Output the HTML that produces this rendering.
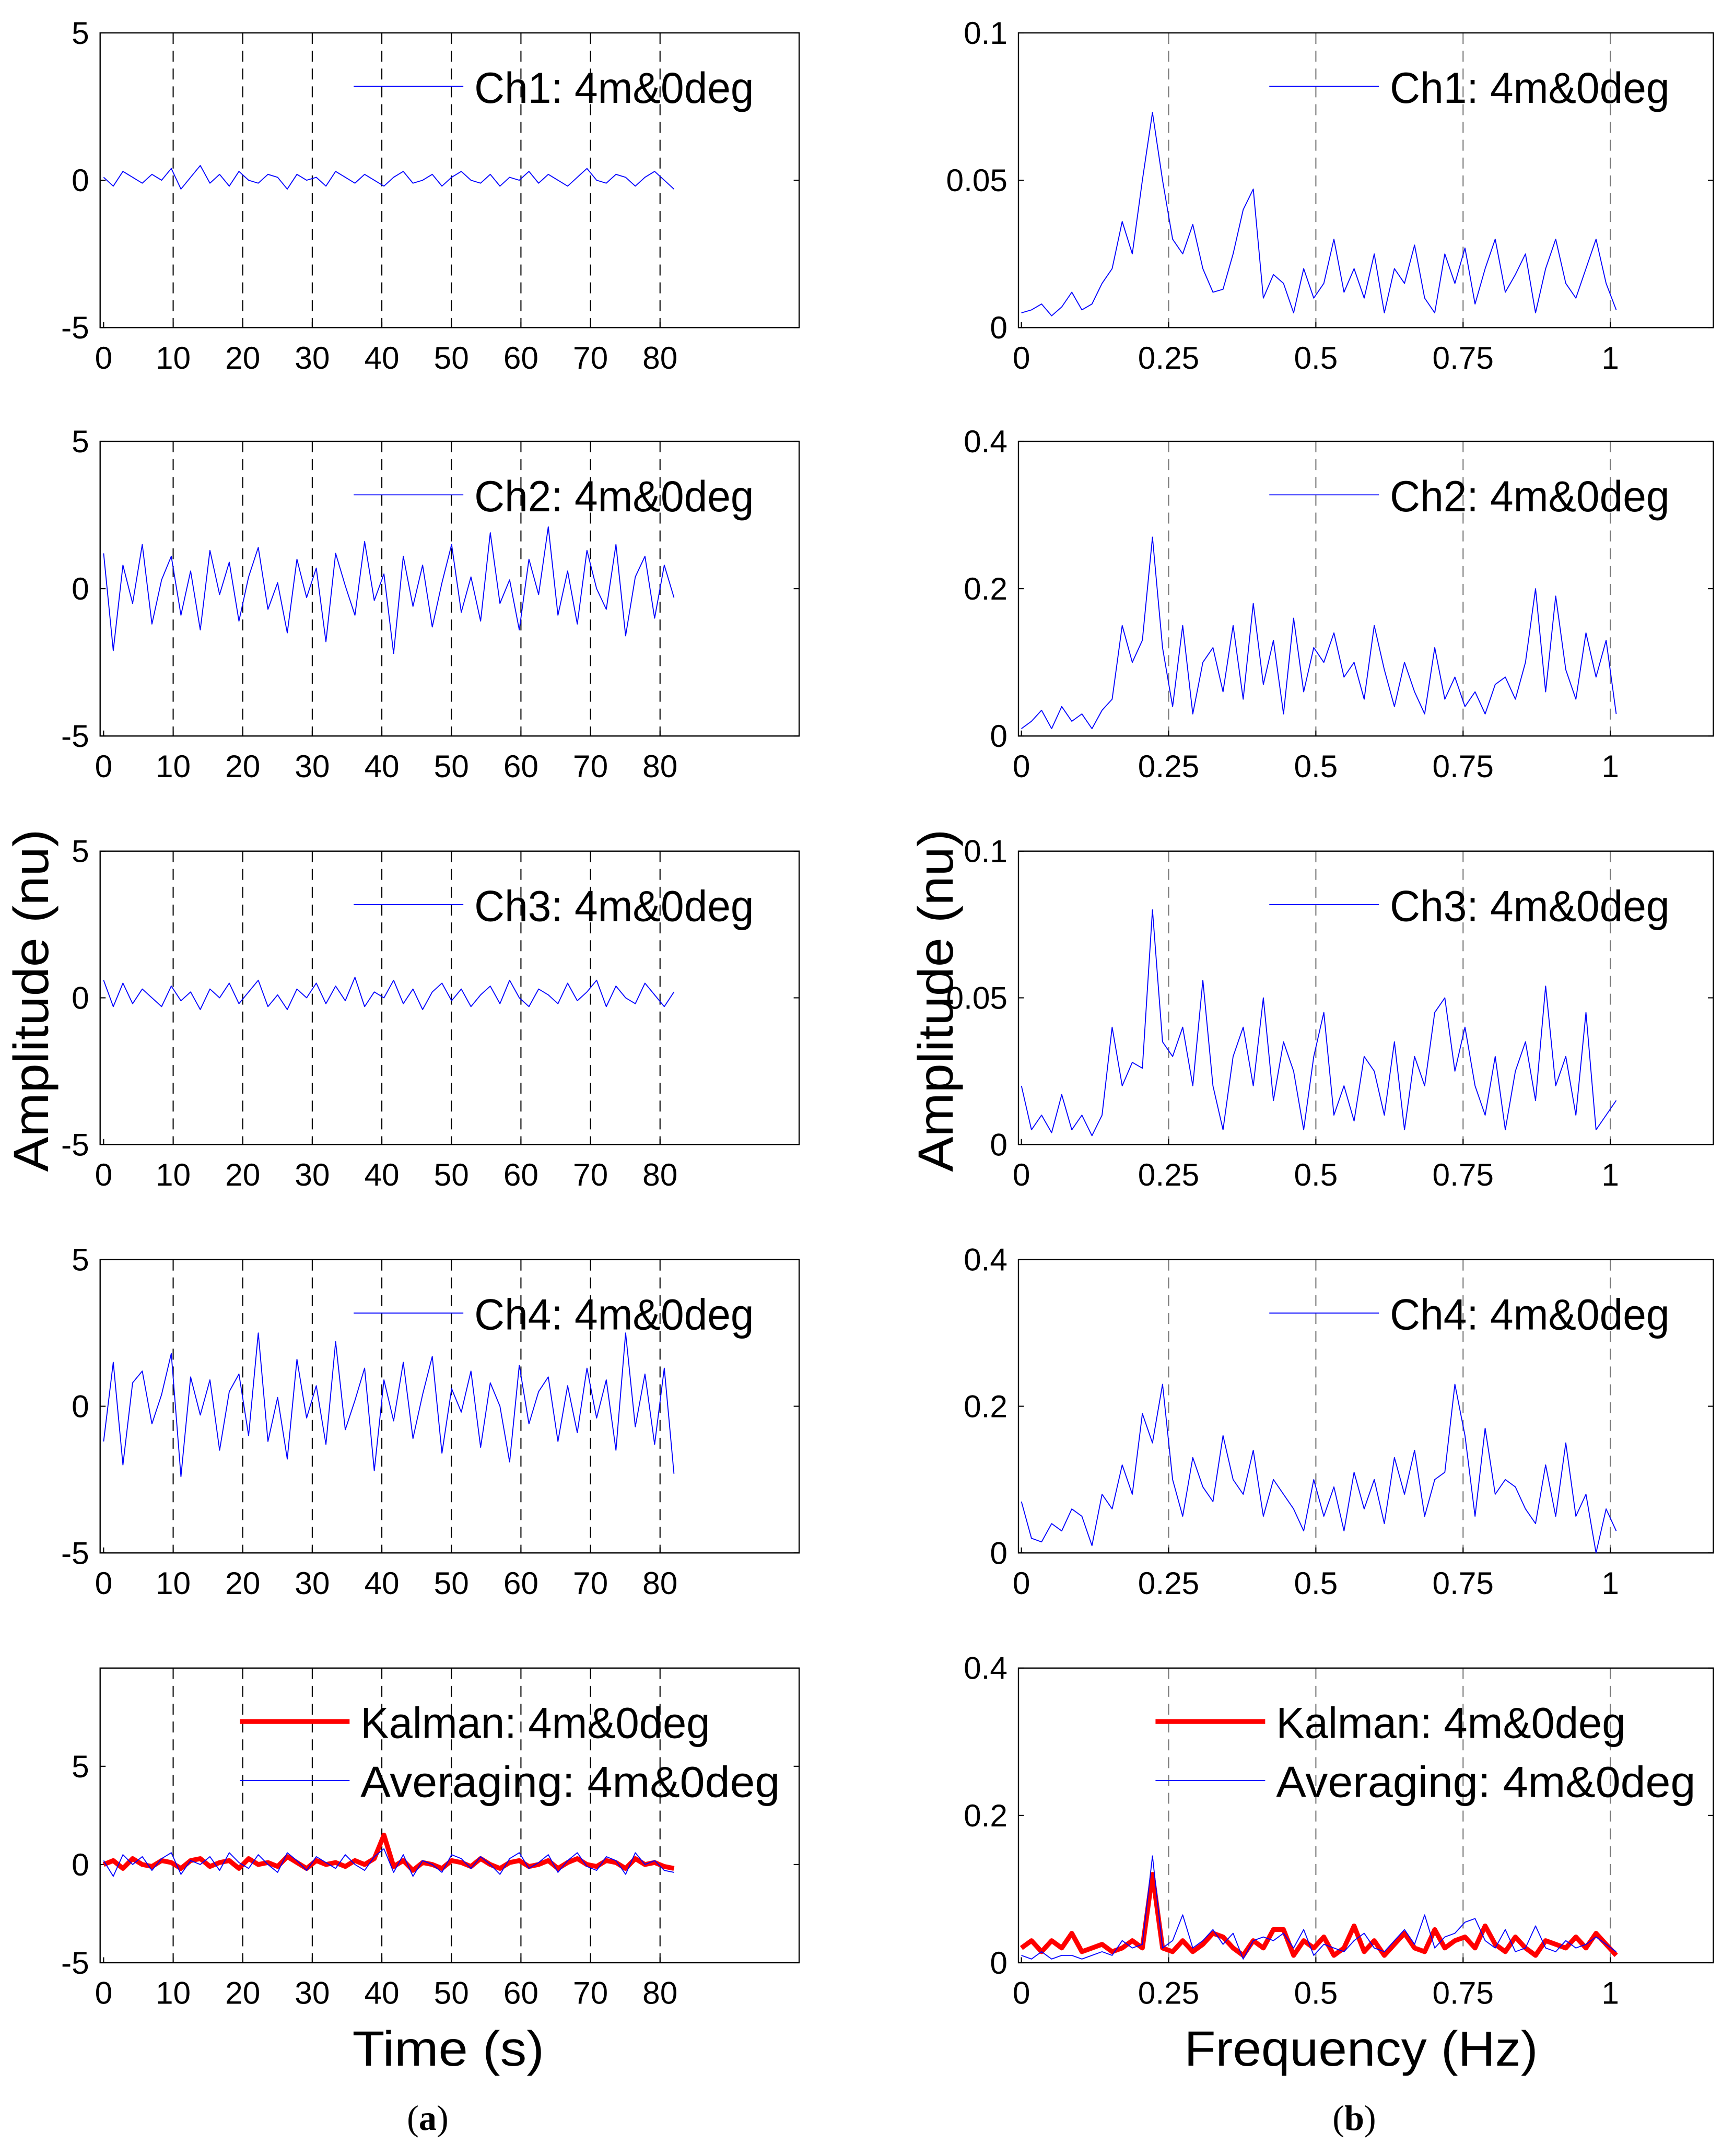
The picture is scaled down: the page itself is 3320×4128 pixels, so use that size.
<!DOCTYPE html>
<html><head><meta charset="utf-8"><style>
html,body{margin:0;padding:0;background:#fff;}
svg{display:block;}
text{font-family:"Liberation Sans",sans-serif;fill:#000;}
</style></head><body>
<svg id="fig" width="3320" height="4128" viewBox="0 0 1265 1573" xmlns="http://www.w3.org/2000/svg">
<rect x="0" y="0" width="1265" height="1573" fill="#fff"/>
<text x="0" y="0" font-size="36" text-anchor="middle" transform="translate(35,730) rotate(-90)" textLength="250" lengthAdjust="spacingAndGlyphs">Amplitude (nu)</text>
<text x="0" y="0" font-size="36" text-anchor="middle" transform="translate(695,730) rotate(-90)" textLength="250" lengthAdjust="spacingAndGlyphs">Amplitude (nu)</text>
<text x="327" y="1507" font-size="36" text-anchor="middle" textLength="140" lengthAdjust="spacingAndGlyphs">Time (s)</text>
<text x="993" y="1507" font-size="36" text-anchor="middle" textLength="258" lengthAdjust="spacingAndGlyphs">Frequency (Hz)</text>
<text x="312" y="1554" font-size="26" text-anchor="middle" style="font-family:'Liberation Serif',serif">(<tspan font-weight="bold">a</tspan>)</text>
<text x="988" y="1554" font-size="26" text-anchor="middle" style="font-family:'Liberation Serif',serif">(<tspan font-weight="bold">b</tspan>)</text>
</svg>
<script>
const ch1 = [0.1,-0.2,0.3,0.1,-0.1,0.2,0.0,0.4,-0.3,0.1,0.5,-0.1,0.2,-0.2,0.3,0.0,-0.1,0.2,0.1,-0.3,0.2,0.0,0.1,-0.2,0.3,0.1,-0.1,0.2,0.0,-0.2,0.1,0.3,-0.1,0.0,0.2,-0.2,0.1,0.3,0.0,-0.1,0.2,-0.2,0.1,0.0,0.3,-0.1,0.2,0.0,-0.2,0.1,0.4,0.0,-0.1,0.2,0.1,-0.2,0.1,0.3,0.0,-0.3];
const ch2 = [1.2,-2.1,0.8,-0.5,1.5,-1.2,0.3,1.1,-0.9,0.6,-1.4,1.3,-0.2,0.9,-1.1,0.4,1.4,-0.7,0.2,-1.5,1.0,-0.3,0.7,-1.8,1.2,0.1,-0.9,1.6,-0.4,0.5,-2.2,1.1,-0.6,0.8,-1.3,0.2,1.5,-0.8,0.4,-1.1,1.9,-0.5,0.3,-1.4,1.0,-0.2,2.1,-0.9,0.6,-1.2,1.3,0.0,-0.7,1.5,-1.6,0.4,1.1,-1.0,0.8,-0.3];
const ch3 = [0.6,-0.3,0.5,-0.2,0.3,0.0,-0.3,0.4,-0.1,0.2,-0.4,0.3,0.0,0.5,-0.2,0.2,0.6,-0.3,0.1,-0.4,0.3,0.0,0.5,-0.2,0.4,-0.1,0.7,-0.3,0.2,0.0,0.6,-0.2,0.3,-0.4,0.2,0.5,-0.1,0.3,-0.3,0.1,0.4,-0.2,0.6,0.0,-0.3,0.3,0.1,-0.2,0.5,-0.1,0.2,0.6,-0.3,0.4,0.0,-0.2,0.5,0.1,-0.3,0.2];
const ch4 = [-1.2,1.5,-2.0,0.8,1.2,-0.6,0.4,1.8,-2.4,1.0,-0.3,0.9,-1.5,0.5,1.1,-1.0,2.5,-1.2,0.3,-1.8,1.6,-0.4,0.7,-1.3,2.2,-0.8,0.2,1.3,-2.2,0.9,-0.5,1.5,-1.1,0.4,1.7,-1.6,0.6,-0.2,1.2,-1.4,0.8,0.0,-1.9,1.4,-0.6,0.5,1.0,-1.2,0.7,-0.9,1.3,-0.4,0.9,-1.5,2.5,-0.7,1.1,-1.3,1.3,-2.3];
const kalmanT = [0.0,0.2,-0.2,0.3,0.0,-0.1,0.2,0.1,-0.2,0.2,0.3,-0.1,0.1,0.2,-0.2,0.3,0.0,0.1,-0.1,0.4,0.1,-0.2,0.2,0.0,0.1,-0.1,0.2,0.0,0.3,1.5,-0.1,0.2,-0.3,0.1,0.0,-0.2,0.2,0.1,-0.1,0.3,0.0,-0.2,0.1,0.2,-0.1,0.0,0.2,-0.2,0.1,0.3,0.0,-0.1,0.2,0.1,-0.2,0.3,0.0,0.1,-0.1,-0.2];
const averagingT = [0.2,-0.6,0.5,0.0,0.4,-0.3,0.3,0.6,-0.5,0.2,0.0,0.4,-0.3,0.6,0.1,-0.2,0.5,0.0,-0.4,0.6,0.2,-0.3,0.4,0.1,-0.2,0.5,0.0,-0.3,0.4,0.8,-0.4,0.5,-0.6,0.2,0.0,-0.4,0.5,0.3,-0.2,0.4,0.0,-0.5,0.3,0.6,-0.2,0.1,0.5,-0.4,0.2,0.6,-0.1,-0.3,0.4,0.2,-0.5,0.6,0.0,0.2,-0.3,-0.4];
const ch1S = [.005,.006,.008,.004,.007,.012,.006,.008,.015,.02,.036,.025,.05,.073,.05,.03,.025,.035,.02,.012,.013,.025,.04,.047,.01,.018,.015,.005,.02,.01,.015,.03,.012,.02,.01,.025,.005,.02,.015,.028,.01,.005,.025,.015,.027,.008,.02,.03,.012,.018,.025,.005,.02,.03,.015,.01,.02,.03,.015,.006];
const ch2S = [.01,.02,.035,.01,.04,.02,.03,.01,.035,.05,.15,.1,.13,.27,.12,.04,.15,.03,.1,.12,.06,.15,.05,.18,.07,.13,.03,.16,.06,.12,.1,.14,.08,.1,.05,.15,.09,.04,.1,.06,.03,.12,.05,.08,.04,.06,.03,.07,.08,.05,.1,.2,.06,.19,.09,.05,.14,.08,.13,.03];
const ch3S = [.02,.005,.01,.004,.017,.005,.01,.003,.01,.04,.02,.028,.026,.08,.035,.03,.04,.02,.056,.02,.005,.03,.04,.02,.05,.015,.035,.025,.005,.03,.045,.01,.02,.008,.03,.025,.01,.035,.005,.03,.02,.045,.05,.025,.04,.02,.01,.03,.005,.025,.035,.015,.054,.02,.03,.01,.045,.005,.01,.015];
const ch4S = [.07,.02,.015,.04,.03,.06,.05,.01,.08,.06,.12,.08,.19,.15,.23,.1,.05,.13,.09,.07,.16,.1,.08,.14,.05,.1,.08,.06,.03,.1,.05,.09,.03,.11,.06,.1,.04,.13,.08,.14,.05,.1,.11,.23,.16,.05,.17,.08,.1,.09,.06,.04,.12,.05,.15,.05,.08,.0,.06,.03];
const kalmanS = [.02,.03,.015,.03,.02,.04,.015,.02,.025,.015,.02,.03,.02,.12,.02,.015,.03,.015,.025,.04,.035,.02,.01,.03,.02,.045,.045,.01,.03,.02,.035,.01,.02,.05,.015,.03,.01,.025,.04,.02,.015,.045,.02,.03,.035,.02,.05,.025,.015,.035,.02,.01,.03,.025,.02,.035,.02,.04,.025,.01];
const averagingS = [.01,.005,.015,.005,.01,.01,.005,.01,.015,.01,.03,.02,.025,.145,.02,.03,.065,.02,.03,.045,.025,.04,.005,.03,.035,.03,.04,.02,.045,.01,.025,.02,.015,.03,.04,.02,.015,.03,.045,.025,.065,.02,.035,.04,.055,.06,.03,.02,.045,.015,.02,.05,.02,.015,.03,.02,.025,.035,.025,.015];
const timeTicks = [0,10,20,30,40,50,60,70,80];
const freqTicks = [0,0.25,0.5,0.75,1];
const freqTickLabels = ["0","0.25","0.5","0.75","1"];

const NS = "http://www.w3.org/2000/svg";
const svg = document.getElementById('fig');
function mk(tag, attrs, parent){
  const e = document.createElementNS(NS, tag);
  for (const k in attrs) e.setAttribute(k, attrs[k]);
  (parent||svg).appendChild(e);
  return e;
}
function panel(opt){
  const g = mk('g', {});
  
  
  const L=opt.x0, R=opt.x1, T=opt.y0, B=opt.y1;
  const sx = v => L + (v-opt.xmin)/(opt.xmax-opt.xmin)*(R-L);
  const sy = v => B - (v-opt.ymin)/(opt.ymax-opt.ymin)*(B-T);
  opt.xt.forEach((t,i)=>{
    if (t===0) return;
    const gl = mk('line',{x1:sx(t),x2:sx(t),y1:T,y2:B,stroke:opt.gridColor,'stroke-width':0.8,'stroke-dasharray':'8,5'},g);
    
    
  });
  opt.xt.forEach((t,i)=>{
    mk('line',{x1:sx(t),x2:sx(t),y1:B,y2:B-4,stroke:'#000','stroke-width':0.8},g);
    const tl = mk('text',{x:sx(t),y:B+30,'font-size':23,'text-anchor':'middle'},g);
    tl.textContent = opt.xl[i];
    
    
  });
  opt.yt.forEach((t,i)=>{
    mk('line',{x1:L,x2:L+4,y1:sy(t),y2:sy(t),stroke:'#000','stroke-width':0.8},g);
    mk('line',{x1:R,x2:R-4,y1:sy(t),y2:sy(t),stroke:'#000','stroke-width':0.8},g);
    const tl = mk('text',{x:L-8,y:sy(t)+8,'font-size':23,'text-anchor':'end'},g);
    tl.textContent = opt.yl[i];
    
    
  });
  const box = mk('rect',{x:L,y:T,width:R-L,height:B-T,fill:'none',stroke:'#000','stroke-width':0.9},g);
  
  
  opt.series.forEach(s=>{
    const n = s.data.length;
    const pts = s.data.map((v,i)=> sx(0 + s.xend*i/(n-1)).toFixed(2)+','+sy(v).toFixed(2)).join(' ');
    const pl = mk('polyline',{points:pts,fill:'none',stroke:s.color,'stroke-width':s.w,'stroke-linejoin':'round'},g);
    
    
  });
  opt.series.forEach((s,i)=>{
    const ly = T + 39 + i*43;
    const ll = mk('line',{x1:L+opt.legDx,x2:L+opt.legDx+80,y1:ly,y2:ly,stroke:s.color,'stroke-width':s.w},g);
    
    
    const lt = mk('text',{x:L+opt.legDx+88,y:ly+12,'font-size':32,textLength:s.label.length*17,lengthAdjust:'spacingAndGlyphs'},g);
    lt.textContent = s.label;
    
    
  });
}
const tops = [24,322,621,919,1217];
const bots = [239,537,835,1133,1432];
const tl = [ch1,ch2,ch3,ch4];
for (let i=0;i<4;i++){
  panel({name:'time-panel-ch'+(i+1),x0:73,x1:583,y0:tops[i],y1:bots[i],xmin:-0.5,xmax:100,ymin:-5,ymax:5,
    xt:timeTicks,xl:timeTicks.map(String),yt:[-5,0,5],yl:['-5','0','5'],gridColor:'#000',legDx:185,
    series:[{name:'ch'+(i+1)+'-time-series',data:tl[i],xend:82,color:'#0000ff',w:0.7,label:'Ch'+(i+1)+': 4m&0deg'}]});
}
panel({name:'time-panel-fused',x0:73,x1:583,y0:tops[4],y1:bots[4],xmin:-0.5,xmax:100,ymin:-5,ymax:10,
  xt:timeTicks,xl:timeTicks.map(String),yt:[-5,0,5],yl:['-5','0','5'],gridColor:'#000',legDx:102,
  series:[{name:'kalman-time-series',data:kalmanT,xend:82,color:'#ff0000',w:3.5,label:'Kalman: 4m&0deg'},
          {name:'averaging-time-series',data:averagingT,xend:82,color:'#0000ff',w:0.7,label:'Averaging: 4m&0deg'}]});
const fs = [ch1S,ch2S,ch3S,ch4S];
const fmax = [0.1,0.4,0.1,0.4];
const fyl = [['0','0.05','0.1'],['0','0.2','0.4'],['0','0.05','0.1'],['0','0.2','0.4']];
for (let i=0;i<4;i++){
  panel({name:'freq-panel-ch'+(i+1),x0:743,x1:1250,y0:tops[i],y1:bots[i],xmin:-0.005,xmax:1.175,ymin:0,ymax:fmax[i],
    xt:freqTicks,xl:freqTickLabels,yt:[0,fmax[i]/2,fmax[i]],yl:fyl[i],gridColor:'#777',legDx:183,
    series:[{name:'ch'+(i+1)+'-spectrum',data:fs[i],xend:1.01,color:'#0000ff',w:0.7,label:'Ch'+(i+1)+': 4m&0deg'}]});
}
panel({name:'freq-panel-fused',x0:743,x1:1250,y0:tops[4],y1:bots[4],xmin:-0.005,xmax:1.175,ymin:0,ymax:0.4,
  xt:freqTicks,xl:freqTickLabels,yt:[0,0.2,0.4],yl:['0','0.2','0.4'],gridColor:'#777',legDx:100,
  series:[{name:'kalman-spectrum',data:kalmanS,xend:1.01,color:'#ff0000',w:3.5,label:'Kalman: 4m&0deg'},
          {name:'averaging-spectrum',data:averagingS,xend:1.01,color:'#0000ff',w:0.7,label:'Averaging: 4m&0deg'}]});
</script>
</body></html>
